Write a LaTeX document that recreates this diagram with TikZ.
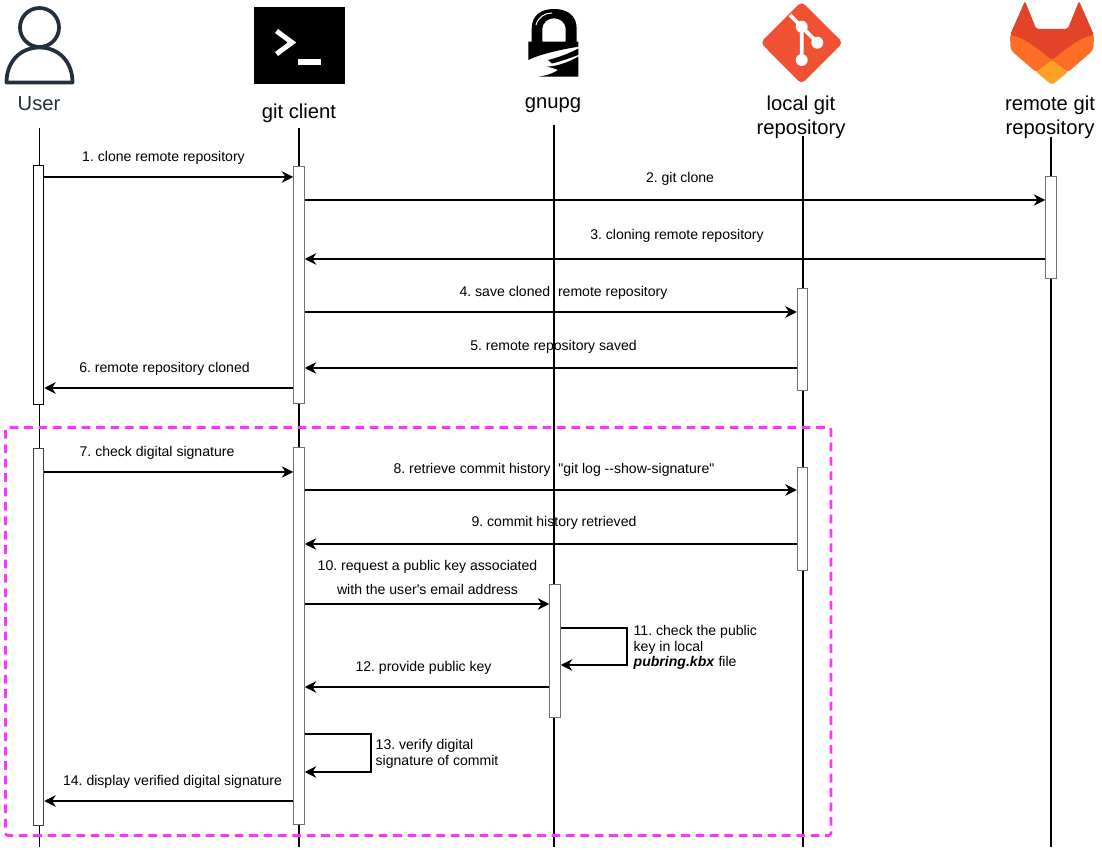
\documentclass[tikz,border=0pt]{standalone}
\usepackage{fontspec}
\setmainfont{Liberation Sans}[Ligatures=TeXOff]
\usepackage{tikz}
\usetikzlibrary{arrows.meta}
\definecolor{userblue}{HTML}{232F3E}
\definecolor{gitred}{HTML}{F05133}
\definecolor{labred}{HTML}{E24329}
\definecolor{laborange}{HTML}{FC6D26}
\definecolor{labyellow}{HTML}{FCA326}
\definecolor{boxpink}{HTML}{FF33FF}
\definecolor{bargray}{HTML}{707070}

\begin{document}
\frenchspacing
\begin{tikzpicture}[x=0.2mm,y=-0.2mm]
\useasboundingbox (0,0) rectangle (1102,850);

% icons
\draw [userblue,line width=0.75mm] (39.5,27.5) circle [radius=19.5];
\draw [userblue,line width=0.75mm,line join=round] (6.5,82.5) .. controls (6.5,62) and (20,47.5) .. (39.5,47.5) .. controls (59,47.5) and (72.5,62) .. (72.5,82.5) -- cycle;

\fill [black] (254,7.5) rectangle (345,84);
\draw [white,line width=1mm] (276.5,31) -- (292,42.5) -- (276.5,54);
\fill [white] (298,59.5) rectangle (321,65.5);

\fill [black,even odd rule] (528.3,41.7) -- (531.7,41.7) -- (531.7,29) .. controls (531.7,15) and (541,9) .. (554,9) .. controls (567,9) and (576.7,15) .. (576.7,29) -- (576.7,41.7) -- (578.3,41.7) -- (578.3,46.7) .. controls (558,50) and (538,55) .. (528.3,60) -- cycle
  (542.3,41.7) -- (565.7,41.7) -- (565.7,30) .. controls (565.7,22) and (560,18.3) .. (554,18.3) .. controls (548,18.3) and (542.3,22) .. (542.3,30) -- cycle;
\fill [black] (548,60) .. controls (560,57) and (570,53) .. (578.3,48.5) -- (578.3,55) .. controls (570,58) and (562,61) .. (552,63.5) -- cycle;
\fill [black] (546.7,66.7) .. controls (560,66) and (570,61) .. (578.3,56.7) -- (578.3,76.7) -- (538.3,76.7) .. controls (550,75) and (555,72) .. (558,70) .. controls (555,68.5) and (551,67.5) .. (546.7,66.7) -- cycle;
\draw [white,line width=0.2mm] (536,25) .. controls (538,17) and (545,13) .. (552,13);

\fill [gitred,rounded corners=0.9mm] (801.5,1.5) -- (843,42.7) -- (801.5,84) -- (760.5,42.7) -- cycle;
\draw [white,line width=0.75mm] (790,15) -- (801.7,26.7) -- (801.7,60);
\draw [white,line width=0.75mm] (801.7,26.7) -- (817.3,42.7);
\fill [white] (801.7,26.7) circle [radius=6] (817.3,42.7) circle [radius=6] (801.7,60) circle [radius=6];

\fill [laborange,rounded corners=0.8mm] (1010,33) -- (1010.5,50) -- (1037,73) -- (1052,60) -- (1067,73) -- (1093.5,50) -- (1094,33) -- cycle;
\fill [labred,rounded corners=0.4mm] (1025,1) -- (1036.3,29) -- (1067.7,29) -- (1079,1) -- (1094,35) .. controls (1080,38) and (1072,44) .. (1052,60) .. controls (1032,44) and (1024,38) .. (1010,35) -- cycle;
\fill [labyellow,rounded corners=0.4mm] (1052,60) -- (1068,72) -- (1052,85) -- (1036,72) -- cycle;

% headers
\begin{scope}[every node/.style={font=\fontsize{11.5}{13.6}\selectfont,align=center}]
    \node [text=userblue] (user) at (39,104) {User};
    \node (client) at (299,113.5) {git client};
    \node (gnupg) at (553,105.5) {gnupg};
    \node (local) at (801,117) {local git\\repository};
    \node (remote) at (1050,117) {remote git\\repository};
\end{scope}

% lifeline ends
\coordinate (userT) at (39.5,128);
\coordinate (userB) at (39.5,847);
\coordinate (clientT) at (299,128);
\coordinate (clientB) at (299,847);
\coordinate (gnupgT) at (554,125);
\coordinate (gnupgB) at (554,847);
\coordinate (localT) at (803,136);
\coordinate (localB) at (803,847);
\coordinate (remoteT) at (1051,137);
\coordinate (remoteB) at (1051,847);

% labels
\begin{scope}[every node/.style={font=\fontsize{8}{9}\selectfont,align=center}]
    \node (L1) at (163.5,158) {1. clone remote repository};
    \node (L2) at (680,179) {2. git clone};
    \node (L3) at (677,236) {3. cloning remote repository};
    \node (L4) at (563.5,293) {4. save cloned\ \ remote repository};
    \node (L5) at (553.5,347) {5. remote repository saved};
    \node (L6) at (164.5,369) {6. remote repository cloned};
    \node (L7) at (157,453) {7. check digital signature};
    \node (L8) at (554,470) {8. retrieve commit history\ \ "git log --show-signature"};
    \node (L9) at (554,523) {9. commit history retrieved};
    \node [font=\fontsize{8}{13.6}\selectfont] (L10) at (427.5,577.5) {10. request a public key associated\\with the user's email address};
    \node [align=left,anchor=west] (L11) at (627.5,647.5) {11. check the public\\key in local\\\textbf{\textit{pubring.kbx}} file};
    \node (L12) at (423.5,668) {12. provide public key};
    \node [align=left,anchor=west] (L13) at (369.5,753.5) {13. verify digital\\signature of commit};
    \node (L14) at (172.5,782) {14. display verified digital signature};
\end{scope}

\begin{scope}[line width=0.3mm]
    \draw (userT) -- (userB);
    \draw (clientT) -- (clientB);
    \draw (gnupgT) -- (gnupgB);
    \draw (localT) -- (localB);
    \draw (remoteT) -- (remoteB);
\end{scope}

% activation bars
\begin{scope}[every node/.style={draw=black,fill=white,line width=0.2mm,minimum width=2.1mm,inner sep=0pt}]
    \node (U1) at (38.5,285) [minimum height=47.6mm] {};
    \node [draw=black!75] (U2) at (38.5,637) [minimum height=75.2mm] {};
    \node [draw=bargray] (C1) at (299,285) [minimum height=47.2mm] {};
    \node [draw=bargray] (C2) at (299,636) [minimum height=75.2mm] {};
    \node [draw=bargray] (G1) at (555,651) [minimum height=26.4mm] {};
    \node [draw=bargray] (R1) at (802.5,340) [minimum height=20.4mm] {};
    \node [draw=bargray] (R2) at (802.5,519) [minimum height=20.4mm] {};
    \node [draw=bargray] (W1) at (1051,228) [minimum height=20.4mm] {};
\end{scope}

% message heights
\coordinate (m1) at (0,177);
\coordinate (m2) at (0,200);
\coordinate (m3) at (0,259);
\coordinate (m4) at (0,312);
\coordinate (m5) at (0,368);
\coordinate (m6) at (0,388);
\coordinate (m7) at (0,472);
\coordinate (m8) at (0,490);
\coordinate (m9) at (0,544);
\coordinate (m10) at (0,604);
\coordinate (m11) at (0,628);
\coordinate (n11) at (0,665);
\coordinate (m12) at (0,687);
\coordinate (m13) at (0,734);
\coordinate (n13) at (0,772);
\coordinate (m14) at (0,801);
\coordinate (t11) at (627,0);
\coordinate (t13) at (371,0);

\begin{scope}[>={Stealth[black,length=2.3mm,width=2.3mm]},line width=0.3mm]
     \draw [->] (U1.east |- m1) -- (C1.west |- m1);
     \draw [->] (C1.east |- m2) -- (W1.west |- m2);
     \draw [->] (W1.west |- m3) -- (C1.east |- m3);
     \draw [->] (C1.east |- m4) -- (R1.west |- m4);
     \draw [->] (R1.west |- m5) -- (C1.east |- m5);
     \draw [->] (C1.west |- m6) -- (U1.east |- m6);

     \draw [->] (U2.east |- m7) -- (C2.west |- m7);
     \draw [->] (C2.east |- m8) -- (R2.west |- m8);
     \draw [->] (R2.west |- m9) -- (C2.east |- m9);
     \draw [->] (C2.east |- m10) -- (G1.west |- m10);
     \draw [->] (G1.east |- m11) -- (t11 |- m11) -- (t11 |- n11) -- (G1.east |- n11);
     \draw [->] (G1.west |- m12) -- (C2.east |- m12);
     \draw [->] (C2.east |- m13) -- (t13 |- m13) -- (t13 |- n13) -- (C2.east |- n13);
     \draw [->] (C2.west |- m14) -- (U2.east |- m14);
\end{scope}

% signature check frame
\draw [boxpink,line width=0.55mm,dash pattern=on 1.74mm off 1.14mm,rounded corners=0.5mm] (5.5,427.5) rectangle (831,835.5);
\end{tikzpicture}
\end{document}
